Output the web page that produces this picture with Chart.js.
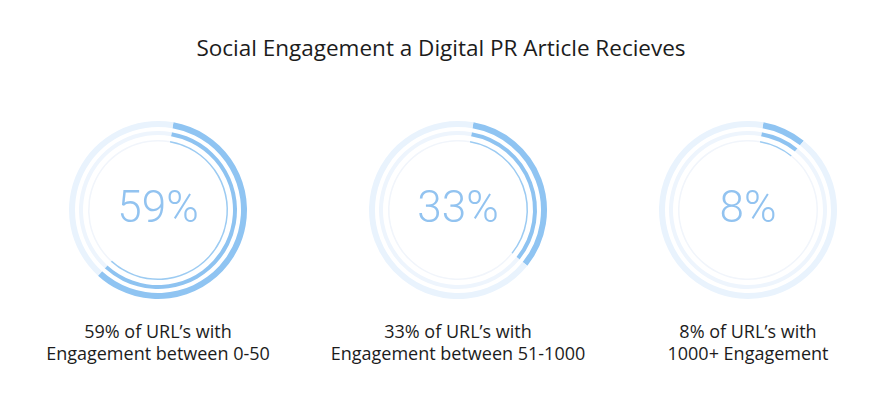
<!DOCTYPE html>
<html>
<head>
<meta charset="utf-8">
<script src="https://cdn.jsdelivr.net/npm/chart.js@4/dist/chart.umd.min.js"></script>
<style>
  html, body { margin: 0; padding: 0; background: #fff; }
  #page { position: relative; width: 882px; height: 402px; overflow: hidden; font-family: "Open Sans", sans-serif; color: #1c1c1c; }
  #title { position: absolute; left: 0; width: 882px; top: 33px; text-align: center; font-size: 22.5px; line-height: 30px; }
  .ring { position: absolute; width: 200px; height: 200px; top: 110px; }
  .ring canvas { position: absolute; left: 0; top: 0; }
  .caption { position: absolute; top: 320px; width: 280px; text-align: center; font-size: 18px; line-height: 22px; }
</style>
</head>
<body>
<div id="page">
  <div id="title">Social Engagement a Digital PR Article Recieves</div>
</div>
<script>
const shares = [59, 33, 8];
const captionTop = ["59% of URL’s with", "33% of URL’s with", "8% of URL’s with"];
const captionBottom = ["Engagement between 0-50", "Engagement between 51-1000", "1000+ Engagement"];

// three concentric rings per circle: outer thick, middle, inner hairline
const rings = [
  { radius: 89, width: 6, fill: "#8fc4f2", track: "#e9f3fd" },
  { radius: 79, width: 4, fill: "#8ec3f1", track: "#eef5fd" },
  { radius: 70, width: 1.5, fill: "#9ccbf2", track: "#f1f5fb" }
];
const centersX = [158, 458, 748];

const centerText = {
  id: "centerText",
  afterDraw(chart) {
    const { ctx, chartArea } = chart;
    const v = chart.data.datasets[0].data[0];
    ctx.save();
    ctx.font = "300 44px Roboto, sans-serif";
    ctx.fillStyle = "#92c3f0";
    ctx.textAlign = "center";
    ctx.textBaseline = "middle";
    ctx.fillText(v + "%", (chartArea.left + chartArea.right) / 2, (chartArea.top + chartArea.bottom) / 2 + 1);
    ctx.restore();
  }
};

const page = document.getElementById("page");

shares.forEach((share, i) => {
  const box = document.createElement("div");
  box.className = "ring";
  box.style.left = (centersX[i] - 100) + "px";
  page.appendChild(box);

  rings.forEach((r, k) => {
    const canvas = document.createElement("canvas");
    canvas.width = 200;
    canvas.height = 200;
    box.appendChild(canvas);
    new Chart(canvas.getContext("2d"), {
      type: "doughnut",
      data: {
        labels: ["share", "rest"],
        datasets: [{
          data: [share, 100 - share],
          backgroundColor: [r.fill, r.track],
          borderWidth: 0
        }]
      },
      options: {
        responsive: false,
        animation: false,
        events: [],
        rotation: 10,
        radius: r.radius,
        cutout: ((r.radius - r.width) / r.radius * 100) + "%",
        layout: { padding: 0 },
        plugins: { legend: { display: false }, tooltip: { enabled: false } }
      },
      plugins: k === 0 ? [centerText] : []
    });
  });

  const cap = document.createElement("div");
  cap.className = "caption";
  cap.style.left = (centersX[i] - 140) + "px";
  cap.innerHTML = captionTop[i] + "<br>" + captionBottom[i];
  page.appendChild(cap);
});
</script>
</body>
</html>
